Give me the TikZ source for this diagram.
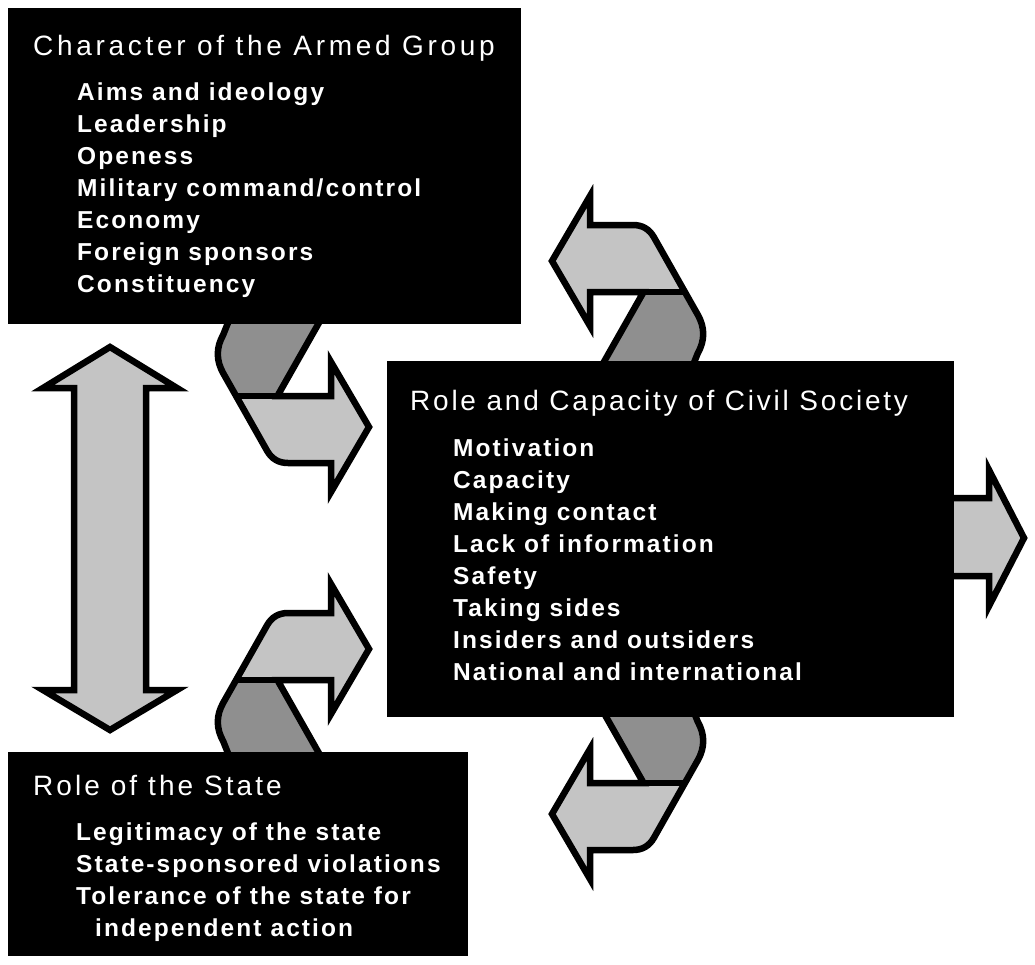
\documentclass[tikz,border=0pt]{standalone}
\usepackage{fontspec}
\setmainfont{Liberation Sans}
\newfontfamily\titlefont[LetterSpace=11]{Liberation Sans}
\newfontfamily\itemfont[LetterSpace=8.5]{Liberation Sans}
\definecolor{ribbonlight}{RGB}{196,196,196}
\definecolor{ribbondark}{RGB}{143,143,143}
\newcommand\ribbonpath{(237.2,300) -- (223.2,334.8) .. controls (216,347.6) and (216,360.4) .. (223.2,373.2) -- (267.1,450.8) .. controls (271.7,458.9) and (278.7,463) .. (288,463) -- (331,463) -- (331,492) -- (369,427) -- (331,362) -- (331,396) -- (277.4,396) -- (331.9,300) -- cycle}
\newcommand\drawribbon{%
  \fill[ribbonlight] \ribbonpath;
  \begin{scope}
    \clip (150,250) rectangle (331,396);
    \fill[ribbondark] \ribbonpath;
  \end{scope}
  \draw[outline] \ribbonpath;
  \draw[outline] (236,396) -- (331,396);
}
\tikzset{
  box/.style={fill=black, draw=none, inner sep=0pt, anchor=north west},
  titletext/.style={anchor=base west, inner sep=0pt, text=white, font=\titlefont\fontsize{28}{34}\selectfont},
  itemtext/.style={anchor=base west, inner sep=0pt, text=white, font=\itemfont\bfseries\fontsize{24.5}{30}\selectfont},
  outline/.style={draw=black, line width=6.5pt, line join=miter},
}
\begin{document}
\begin{tikzpicture}[x=1pt, y=-1pt]
\fill[white] (0,0) rectangle (1035,964);
\useasboundingbox (0,0) rectangle (1035,964);

% ribbon arrows
\drawribbon
\begin{scope}[shift={(921,688)}, xscale=-1, yscale=-1]
  \drawribbon
\end{scope}
\begin{scope}[shift={(0,1076)}, yscale=-1]
  \drawribbon
\end{scope}
\begin{scope}[shift={(921,387)}, xscale=-1]
  \drawribbon
\end{scope}

% vertical double arrow
\draw[outline, fill=ribbonlight] (110,347) -- (177,388) -- (146,388) -- (146,690) -- (177,690) -- (110,730) -- (43,690) -- (74,690) -- (74,388) -- (43,388) -- cycle;

% right arrow
\draw[outline, fill=ribbonlight] (930,498) -- (989,498) -- (989,470) -- (1024,538) -- (989,606) -- (989,576) -- (930,576) -- cycle;

% boxes
\node[box, minimum width=513pt, minimum height=316pt] (armedbox) at (8,8) {};
\node[box, minimum width=567pt, minimum height=356pt] (civilbox) at (387,361) {};
\node[box, minimum width=460pt, minimum height=204pt] (statebox) at (8,752) {};

% texts
\node[titletext, font=\titlefont\addfontfeature{LetterSpace=13.2}\fontsize{28}{34}\selectfont] (armedtitle) at (33,55) {Character of the Armed Group};
\foreach \t [count=\i] in {Aims and ideology, Leadership, Openess, Military command/control, Economy, Foreign sponsors, Constituency}
  \node[itemtext] (armed\i) at (77,{100+32*(\i-1)}) {\t};

\node[titletext, font=\titlefont\addfontfeature{LetterSpace=9.9}\fontsize{28}{34}\selectfont] (civiltitle) at (410,410) {Role and Capacity of Civil Society};
\foreach \t [count=\i] in {Motivation, Capacity, Making contact, Lack of information, Safety, Taking sides, Insiders and outsiders, National and international}
  \node[itemtext] (civil\i) at (453,{456+32*(\i-1)}) {\t};

\node[titletext] (statetitle) at (33,795) {Role of the State};
\node[itemtext] (state1) at (76,840) {Legitimacy of the state};
\node[itemtext] (state2) at (76,872) {State-sponsored violations};
\node[itemtext] (state3) at (76,904) {Tolerance of the state for};
\node[itemtext] (state4) at (95,936) {independent action};
\end{tikzpicture}
\end{document}
